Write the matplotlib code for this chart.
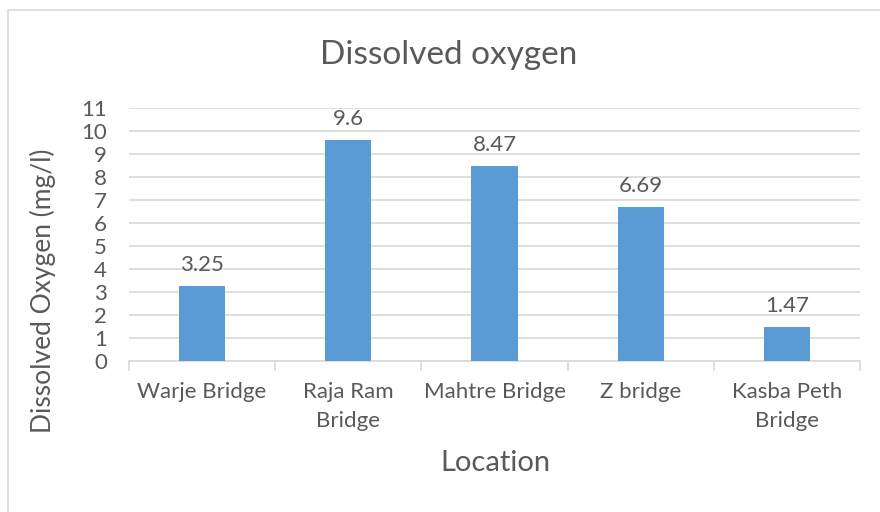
import matplotlib.pyplot as plt
from matplotlib.patches import Rectangle

# Dane
locations = ["Warje Bridge", "Raja Ram\nBridge", "Mahtre Bridge", "Z bridge", "Kasba Peth\nBridge"]
dissolved_oxygen = [3.25, 9.6, 8.47, 6.69, 1.47]
value_labels = ["3.25", "9.6", "8.47", "6.69", "1.47"]

bar_color = "#5B9BD5"
text_color = "#595959"
grid_color = "#D9D9D9"

plt.rcParams['font.family'] = ['Lato', 'DejaVu Sans']

fig = plt.figure(figsize=(8.8, 5.12), dpi=100)
ax = fig.add_axes([129 / 880, 1 - 361 / 512, (860 - 129) / 880, (361 - 108) / 512])

# Ramka wykresu
fig.patches.append(Rectangle((8 / 880, -0.1), 1.2, 1 - 10 / 512 + 0.1, transform=fig.transFigure,
                             fill=False, edgecolor=grid_color, linewidth=1.2))

x = list(range(len(locations)))
ax.bar(x, dissolved_oxygen, width=0.315, color=bar_color, zorder=3)

for xi, v, lab in zip(x, dissolved_oxygen, value_labels):
    ax.annotate(lab, (xi, v), xytext=(0, 8), textcoords="offset points",
                ha="center", va="bottom", fontsize=16, color=text_color)

ax.set_xlim(-0.5, len(locations) - 0.5)
ax.set_ylim(0, 11)
ax.set_yticks(range(0, 12))
ax.yaxis.grid(True, color=grid_color, linewidth=1.2, zorder=0)
ax.set_xticks(x)
ax.set_xticklabels(locations, fontsize=16, color=text_color, linespacing=1.55)
ax.tick_params(axis="y", length=0, labelsize=16, labelcolor=text_color, pad=16)
ax.tick_params(axis="x", length=0, pad=15)

# Znaczniki między kategoriami
ax.set_xticks([i - 0.5 for i in range(len(locations) + 1)], minor=True)
ax.tick_params(axis="x", which="minor", length=7, color=grid_color, width=1.2)

for s in ["top", "right", "left"]:
    ax.spines[s].set_visible(False)
ax.spines["bottom"].set_color(grid_color)
ax.spines["bottom"].set_linewidth(1.2)

fig.text(449 / 880, 1 - 55 / 512, "Dissolved oxygen", ha="center", va="center",
         fontsize=24, color=text_color)
fig.text(43 / 880, 1 - 291 / 512, "Dissolved Oxygen (mg/l)", ha="center", va="center",
         rotation=90, fontsize=19, color=text_color)
fig.text(495 / 880, 1 - 463 / 512, "Location", ha="center", va="center",
         fontsize=21, color=text_color)

fig.savefig("out.png", dpi=100)
